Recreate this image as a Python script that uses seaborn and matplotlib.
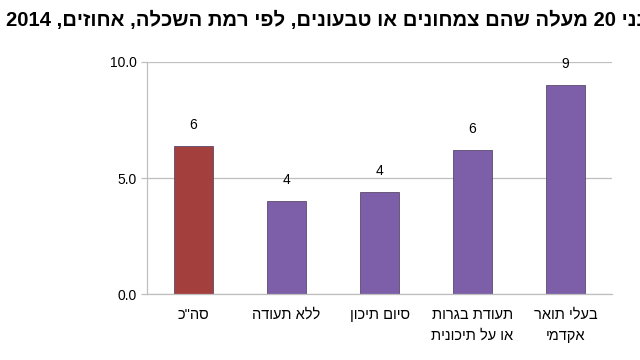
import re
import matplotlib
matplotlib.use('Agg')
import matplotlib.pyplot as plt
import seaborn as sns

# ── data ──────────────────────────────────────────────
categories = ['סה"כ', 'ללא תעודה', 'סיום תיכון',
              'תעודת בגרות\nאו על תיכונית', 'בעלי תואר\nאקדמי']
values = [6.4, 4.0, 4.4, 6.2, 9.0]
bar_colors = ['#A3403D', '#7D5EA8', '#7D5EA8', '#7D5EA8', '#7D5EA8']
yticks = [0, 5, 10]
title = 'בני 20 מעלה שהם צמחונים או טבעונים, לפי רמת השכלה, אחוזים, 2014'


def vis(s):
    # matplotlib has no bidi: flip each line, keep digit runs in order
    out = []
    for line in s.split('\n'):
        r = line[::-1]
        r = re.sub(r'\d+', lambda m: m.group(0)[::-1], r)
        out.append(r)
    return '\n'.join(out)


sns.set_style('white')
plt.rcParams['font.family'] = ['Liberation Sans', 'DejaVu Sans']
plt.rcParams['text.color'] = 'black'
plt.rcParams['xtick.labelcolor'] = 'black'
plt.rcParams['ytick.labelcolor'] = 'black'

fig = plt.figure(figsize=(6.4, 3.6), dpi=100)
ax = fig.add_axes([0.2297, 0.1833, 0.7266, 0.6445])

sns.barplot(x=list(range(len(values))), y=values, hue=list(range(len(values))),
            palette=bar_colors, legend=False, width=0.41, ax=ax,
            edgecolor='#5a4a6a', linewidth=0.6, saturation=1)

ax.set_ylim(0, 10)
ax.set_xlim(-0.5, len(values) - 0.5)
ax.set_yticks(yticks)
ax.set_yticklabels([f'{t:.1f}' for t in yticks], fontsize=10)
ax.yaxis.grid(True, color='#BFBFBF', linewidth=0.9)
ax.set_axisbelow(True)

ax.set_xticks(range(len(values)))
ax.set_xticklabels([vis(c) for c in categories], fontsize=10.5, linespacing=1.6)
ax.tick_params(axis='x', which='major', length=0, pad=10)
ax.set_xticks([i - 0.5 for i in range(len(values) + 1)], minor=True)
ax.tick_params(axis='x', which='minor', length=4, color='#BFBFBF', width=0.9)
ax.tick_params(axis='y', length=4, color='#BFBFBF', width=0.9, left=True)

for side in ['top', 'right']:
    ax.spines[side].set_visible(False)
for side in ['left', 'bottom']:
    ax.spines[side].set_color('#BFBFBF')
    ax.spines[side].set_linewidth(0.9)

for i, v in enumerate(values):
    ax.text(i, v + 0.6, f'{v:.0f}', ha='center', va='bottom', fontsize=10)

ax.set_xlabel('')
ax.set_ylabel('')

fig.text(650 / 640, 0.944, vis(title), ha='right', va='center',
         fontsize=14.6, fontweight='bold')

fig.savefig('out.png', dpi=100)
